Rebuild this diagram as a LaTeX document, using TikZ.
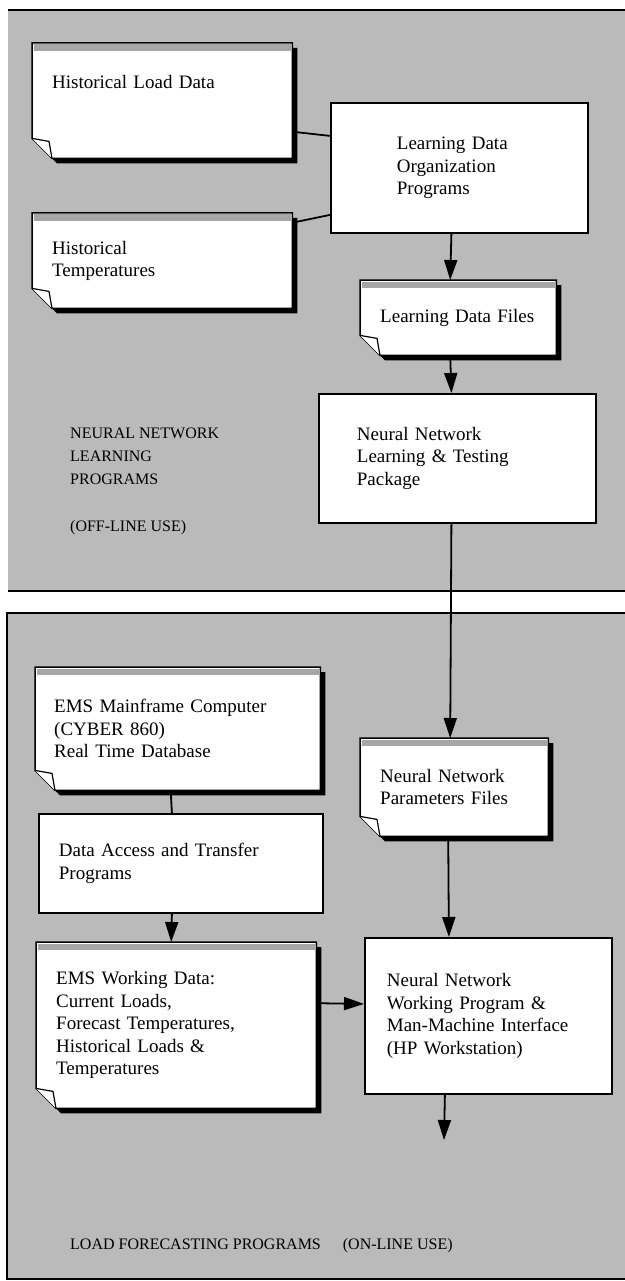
\documentclass[tikz,border=0pt]{standalone}
\usepackage{fontspec}
\setmainfont{Liberation Serif}
\usetikzlibrary{arrows.meta,calc,backgrounds}

\begin{document}
\begin{tikzpicture}[
    x=1pt, y=-1pt,
    >={Triangle[length=20pt,width=13pt]},
    panel/.style={fill=black!27, draw=black, line width=2.5pt},
    doc/.style={
        rectangle, inner xsep=0pt, inner ysep=0pt, anchor=north west,
        align=left, font=\fontsize{19pt}{22.5pt}\selectfont
    },
    proc/.style={
        rectangle, draw, fill=white, line width=1.8pt,
        inner xsep=0pt, inner ysep=0pt, anchor=north west,
        align=left, font=\fontsize{19pt}{22.5pt}\selectfont
    },
    caption/.style={anchor=north west, inner sep=0pt, align=left,
        font=\fontsize{16pt}{23pt}\selectfont},
    conn/.style={->, line width=1.8pt},
    link/.style={line width=1.8pt}
]
    \useasboundingbox (0,0) rectangle (624,1281);

    % Off-line part
    \node[doc, minimum width=260pt, text width=220pt, text height=45pt, text depth=70pt] (hld) at (32,43) {Historical Load Data};
    \node[doc, minimum width=260pt, minimum height=95pt, text width=220pt] (htemp) at (32,213) {Historical\\Temperatures};
    \node[proc, minimum width=257pt, minimum height=130pt, text width=125pt] (ldop) at (330,102) {Learning Data\\Organization\\Programs};
    \node[doc, minimum width=196pt, minimum height=75pt, text width=156pt] (ldf) at (360,280) {Learning Data Files};
    \node[proc, minimum width=277pt, minimum height=129pt, text width=201pt] (nnltp) at (318,393) {Neural Network\\Learning \& Testing\\Package};
    \node[caption] (offline) at (70,428) {NEURAL NETWORK\\LEARNING\\PROGRAMS\\[24pt](OFF-LINE USE)};

    % On-line part
    \node[doc, minimum width=285pt, minimum height=123pt, text width=247pt] (ems) at (35,667) {EMS Mainframe Computer\\(CYBER 860)\\Real Time Database};
    \node[doc, minimum width=188pt, minimum height=98pt, text width=148pt] (nnpf) at (360,738) {Neural Network\\Parameters Files};
    \node[proc, minimum width=284pt, minimum height=99pt, text width=244pt] (datp) at (38,813) {Data Access and Transfer\\Programs};
    \node[doc, minimum width=280pt, minimum height=166pt, text width=240pt] (emswd) at (36,942) {EMS Working Data:\\Current Loads,\\Forecast Temperatures,\\Historical Loads \&\\Temperatures};
    \node[proc, minimum width=247pt, minimum height=156pt, text width=203pt] (nnwp) at (364,937) {Neural Network\\Working Program \&\\Man-Machine Interface\\(HP Workstation)};
    \node[caption] (online) at (70,1238) {LOAD FORECASTING PROGRAMS\hspace{22pt}(ON-LINE USE)};
    \coordinate (fcst) at (444,1140);

    % Panels and document shapes
    \begin{scope}[on background layer]
        \fill[black!27] (8,10) rectangle (660,591);
        \draw[line width=2.5pt] (8,10) -- (660,10) (8,591) -- (660,591);
        \draw[panel] (7,613) rectangle (660,1279);
        \foreach \nd in {hld,htemp,ldf,ems,nnpf,emswd} {
            \fill[black] ($(\nd.north west)+(5,5)$) -- ($(\nd.north east)+(5,5)$) -- ($(\nd.south east)+(5,5)$)
                -- ($(\nd.south west)+(25,5)$) -- ($(\nd.south west)+(5,-15)$) -- cycle;
            \filldraw[fill=white, line width=1.5pt] (\nd.north west) -- (\nd.north east) -- (\nd.south east)
                -- ($(\nd.south west)+(20,0)$) -- ($(\nd.south west)+(0,-20)$) -- cycle;
            \fill[black!35] ($(\nd.north west)+(1.5,1.5)$) rectangle ($(\nd.north east)+(-1.5,8)$);
            \filldraw[fill=white, line width=1.2pt, line join=round] ($(\nd.south west)+(0,-20)$)
                -- ($(\nd.south west)+(17,-17)$) -- ($(\nd.south west)+(20,0)$);
        }
    \end{scope}

    % Connections
    \draw[link] ([yshift=-31pt]hld.east) -- ([yshift=32pt]ldop.west);
    \draw[link] ([yshift=38pt]htemp.east) -- ([yshift=-47pt]ldop.west);
    \draw[conn] ([xshift=-8pt]ldop.south) -- ([xshift=-8pt]ldf.north);
    \draw[conn] ([xshift=-8pt]ldf.south) -- ([xshift=-6pt]nnltp.north);
    \draw[conn] ([xshift=-6pt]nnltp.south) -- ([xshift=-4pt]nnpf.north);
    \draw[link] ([xshift=-7pt]ems.south) -- ([xshift=-9pt]datp.north);
    \draw[conn] ([xshift=-9pt]datp.south) -- ([xshift=-5pt]emswd.north);
    \draw[conn] ([xshift=-6pt]nnpf.south) -- ([xshift=-39.5pt]nnwp.north);
    \draw[conn] ([yshift=22pt]emswd.east) -- ([yshift=12pt]nnwp.west);
    \draw[conn] ([xshift=-43.5pt]nnwp.south) -- (fcst);

\end{tikzpicture}
\end{document}
